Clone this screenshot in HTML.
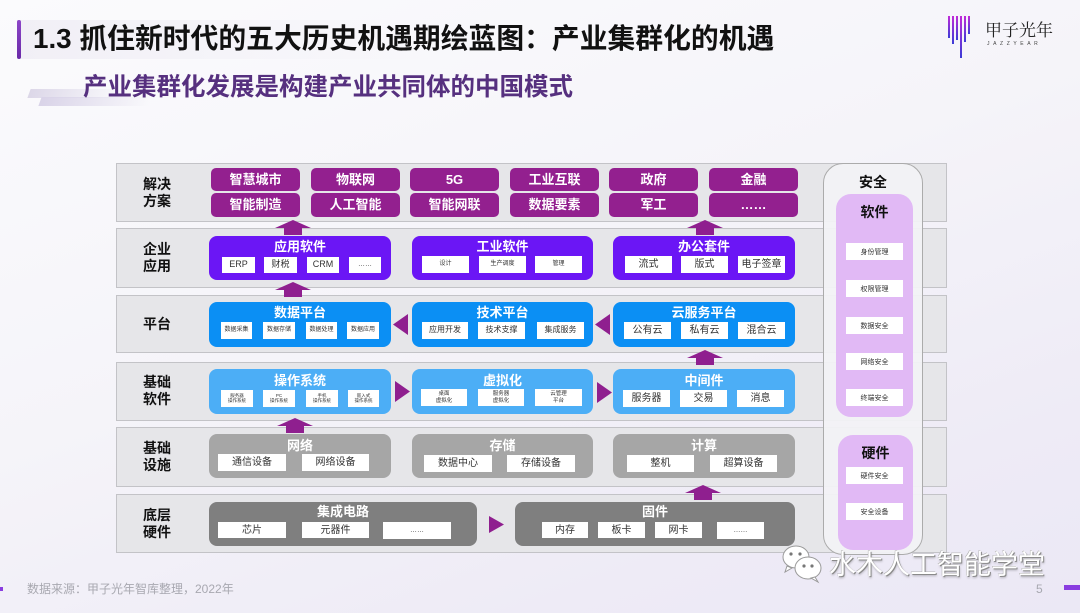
<!DOCTYPE html>
<html><head><meta charset="utf-8">
<style>
*{margin:0;padding:0;box-sizing:border-box;}
html,body{width:1080px;height:613px;overflow:hidden;}
body{position:relative;font-family:"Liberation Sans","Noto Sans CJK SC",sans-serif;
background:linear-gradient(160deg,#fbfbfd 0%,#f5f4f9 45%,#eeebf6 80%,#ebe8f5 100%);}
.abs{position:absolute;}
.row{position:absolute;left:116px;width:831px;border:1.5px solid #c3c3c7;background:#e6e6e9;}
.lab{position:absolute;left:130px;width:54px;text-align:center;font-weight:bold;font-size:14px;line-height:17px;color:#111;}
.p1{position:absolute;width:89px;background:#93208f;color:#fff;border-radius:5px;text-align:center;font-size:13px;font-weight:bold;}
.b{position:absolute;border-radius:8px;}
.t{position:absolute;text-align:center;color:#fff;font-weight:bold;font-size:13px;line-height:18px;}
.s{position:absolute;background:#fff;color:#333;display:flex;align-items:center;justify-content:center;text-align:center;line-height:1.1;white-space:nowrap;}
.sec{position:absolute;background:#fff;color:#333;font-size:7px;display:flex;align-items:center;justify-content:center;left:846px;width:57px;height:17px;}
</style></head><body>

<!-- header -->
<div class="abs" style="left:17px;top:20px;width:420px;height:39px;background:linear-gradient(90deg,#f1eff6,rgba(245,244,249,0));"></div>
<div class="abs" style="left:17px;top:20px;width:4px;height:39px;background:linear-gradient(180deg,#8c46c8,#6a2aa8);border-radius:2px;"></div>
<div class="abs" style="left:33px;top:23px;font-size:27.8px;line-height:32px;font-weight:bold;color:#111;white-space:nowrap;">1.3 抓住新时代的五大历史机遇期绘蓝图：产业集群化的机遇</div>

<div class="abs" style="left:29px;top:89px;width:90px;height:9px;background:linear-gradient(90deg,#dcd7e8,rgba(230,226,240,0));transform:skewX(-20deg);"></div>
<div class="abs" style="left:40px;top:97px;width:110px;height:9px;background:linear-gradient(90deg,#d9d3e8,rgba(230,226,240,0));transform:skewX(-20deg);"></div>
<div class="abs" style="left:83px;top:74px;font-size:24.5px;line-height:28px;font-weight:bold;color:#56307f;white-space:nowrap;">产业集群化发展是构建产业共同体的中国模式</div>

<!-- logo -->
<svg class="abs" style="left:944px;top:14px" width="34" height="46">
<defs><linearGradient id="lg" x1="0" y1="0" x2="0" y2="1"><stop offset="0" stop-color="#c02ad8"/><stop offset="1" stop-color="#3b3bd6"/></linearGradient></defs>
<rect x="4" y="2" width="2" height="22" fill="url(#lg)"/>
<rect x="8" y="2" width="2" height="28" fill="url(#lg)"/>
<rect x="12" y="2" width="2" height="24" fill="url(#lg)"/>
<rect x="16" y="2" width="2" height="42" fill="url(#lg)"/>
<rect x="20" y="2" width="2" height="26" fill="url(#lg)"/>
<rect x="24" y="2" width="2" height="18" fill="url(#lg)"/>
</svg>
<div class="abs" style="left:985px;top:19px;font-size:17px;line-height:20px;color:#222;font-family:'Noto Serif CJK SC','Noto Sans CJK SC',serif;white-space:nowrap;">甲子光年</div>
<div class="abs" style="left:987px;top:41px;font-size:5px;letter-spacing:3.6px;color:#444;white-space:nowrap;">JAZZYEAR</div>

<!-- rows -->
<div class="row" style="top:163px;height:59px;"></div>
<div class="row" style="top:228px;height:60px;"></div>
<div class="row" style="top:295px;height:58px;"></div>
<div class="row" style="top:362px;height:59px;"></div>
<div class="row" style="top:427px;height:60px;"></div>
<div class="row" style="top:494px;height:59px;"></div>

<div class="lab" style="top:176px;">解决<br>方案</div>
<div class="lab" style="top:241px;">企业<br>应用</div>
<div class="lab" style="top:316px;">平台</div>
<div class="lab" style="top:374px;">基础<br>软件</div>
<div class="lab" style="top:440px;">基础<br>设施</div>
<div class="lab" style="top:507px;">底层<br>硬件</div>

<!-- row1 -->
<div class="p1" style="left:211px;top:168px;height:23px;line-height:23px;">智慧城市</div>
<div class="p1" style="left:211px;top:193px;height:24px;line-height:24px;">智能制造</div>
<div class="p1" style="left:311px;top:168px;height:23px;line-height:23px;">物联网</div>
<div class="p1" style="left:311px;top:193px;height:24px;line-height:24px;">人工智能</div>
<div class="p1" style="left:410px;top:168px;height:23px;line-height:23px;">5G</div>
<div class="p1" style="left:410px;top:193px;height:24px;line-height:24px;">智能网联</div>
<div class="p1" style="left:510px;top:168px;height:23px;line-height:23px;">工业互联</div>
<div class="p1" style="left:510px;top:193px;height:24px;line-height:24px;">数据要素</div>
<div class="p1" style="left:609px;top:168px;height:23px;line-height:23px;">政府</div>
<div class="p1" style="left:609px;top:193px;height:24px;line-height:24px;">军工</div>
<div class="p1" style="left:709px;top:168px;height:23px;line-height:23px;">金融</div>
<div class="p1" style="left:709px;top:193px;height:24px;line-height:24px;">……</div>

<!-- row2 -->
<div class="b" style="left:209px;top:236px;width:182px;height:44px;background:#6b16f5;"></div>
<div class="t" style="left:209px;width:182px;top:238px;">应用软件</div>
<div class="s" style="left:222px;top:257px;width:33px;height:16px;font-size:9px;">ERP</div>
<div class="s" style="left:264px;top:257px;width:33px;height:16px;font-size:9px;">财税</div>
<div class="s" style="left:307px;top:257px;width:32px;height:16px;font-size:9px;">CRM</div>
<div class="s" style="left:349px;top:257px;width:32px;height:16px;font-size:7px;">……</div>

<div class="b" style="left:412px;top:236px;width:181px;height:44px;background:#6b16f5;"></div>
<div class="t" style="left:412px;width:181px;top:238px;">工业软件</div>
<div class="s" style="left:422px;top:256px;width:47px;height:17px;font-size:6px;">设计</div>
<div class="s" style="left:479px;top:256px;width:47px;height:17px;font-size:6px;">生产调度</div>
<div class="s" style="left:535px;top:256px;width:47px;height:17px;font-size:6px;">管理</div>

<div class="b" style="left:613px;top:236px;width:182px;height:44px;background:#6b16f5;"></div>
<div class="t" style="left:613px;width:182px;top:238px;">办公套件</div>
<div class="s" style="left:625px;top:256px;width:47px;height:17px;font-size:10px;">流式</div>
<div class="s" style="left:681px;top:256px;width:47px;height:17px;font-size:10px;">版式</div>
<div class="s" style="left:738px;top:256px;width:47px;height:17px;font-size:10px;">电子签章</div>

<!-- row3 -->
<div class="b" style="left:209px;top:302px;width:182px;height:45px;background:#0b8ff4;"></div>
<div class="t" style="left:209px;width:182px;top:304px;">数据平台</div>
<div class="s" style="left:221px;top:322px;width:31px;height:17px;font-size:6px;">数据采集</div>
<div class="s" style="left:263px;top:322px;width:32px;height:17px;font-size:6px;">数据存储</div>
<div class="s" style="left:306px;top:322px;width:31px;height:17px;font-size:6px;">数据处理</div>
<div class="s" style="left:347px;top:322px;width:32px;height:17px;font-size:6px;">数据应用</div>

<div class="b" style="left:412px;top:302px;width:181px;height:45px;background:#0b8ff4;"></div>
<div class="t" style="left:412px;width:181px;top:304px;">技术平台</div>
<div class="s" style="left:422px;top:322px;width:46px;height:17px;font-size:8px;">应用开发</div>
<div class="s" style="left:478px;top:322px;width:47px;height:17px;font-size:8px;">技术支撑</div>
<div class="s" style="left:537px;top:322px;width:47px;height:17px;font-size:8px;">集成服务</div>

<div class="b" style="left:613px;top:302px;width:182px;height:45px;background:#0b8ff4;"></div>
<div class="t" style="left:613px;width:182px;top:304px;">云服务平台</div>
<div class="s" style="left:624px;top:322px;width:47px;height:17px;font-size:10px;">公有云</div>
<div class="s" style="left:681px;top:322px;width:47px;height:17px;font-size:10px;">私有云</div>
<div class="s" style="left:738px;top:322px;width:47px;height:17px;font-size:10px;">混合云</div>

<!-- row4 -->
<div class="b" style="left:209px;top:369px;width:182px;height:45px;background:#4caef6;"></div>
<div class="t" style="left:209px;width:182px;top:372px;">操作系统</div>
<div class="s" style="left:221px;top:390px;width:32px;height:17px;font-size:4.5px;">服务器<br>操作系统</div>
<div class="s" style="left:263px;top:390px;width:32px;height:17px;font-size:4.5px;">PC<br>操作系统</div>
<div class="s" style="left:306px;top:390px;width:32px;height:17px;font-size:4.5px;">手机<br>操作系统</div>
<div class="s" style="left:348px;top:390px;width:31px;height:17px;font-size:4.5px;">嵌入式<br>操作系统</div>

<div class="b" style="left:412px;top:369px;width:181px;height:45px;background:#4caef6;"></div>
<div class="t" style="left:412px;width:181px;top:372px;">虚拟化</div>
<div class="s" style="left:421px;top:389px;width:46px;height:17px;font-size:5.5px;">桌面<br>虚拟化</div>
<div class="s" style="left:478px;top:389px;width:46px;height:17px;font-size:5.5px;">服务器<br>虚拟化</div>
<div class="s" style="left:535px;top:389px;width:47px;height:17px;font-size:5.5px;">云管理<br>平台</div>

<div class="b" style="left:613px;top:369px;width:182px;height:45px;background:#4caef6;"></div>
<div class="t" style="left:613px;width:182px;top:372px;">中间件</div>
<div class="s" style="left:623px;top:390px;width:47px;height:17px;font-size:10px;">服务器</div>
<div class="s" style="left:680px;top:390px;width:47px;height:17px;font-size:10px;">交易</div>
<div class="s" style="left:737px;top:390px;width:47px;height:17px;font-size:10px;">消息</div>

<!-- row5 -->
<div class="b" style="left:209px;top:434px;width:182px;height:44px;background:#a6a6a6;"></div>
<div class="t" style="left:209px;width:182px;top:437px;">网络</div>
<div class="s" style="left:218px;top:454px;width:68px;height:17px;font-size:10px;">通信设备</div>
<div class="s" style="left:302px;top:454px;width:67px;height:17px;font-size:10px;">网络设备</div>

<div class="b" style="left:412px;top:434px;width:181px;height:44px;background:#a6a6a6;"></div>
<div class="t" style="left:412px;width:181px;top:437px;">存储</div>
<div class="s" style="left:424px;top:455px;width:68px;height:17px;font-size:10px;">数据中心</div>
<div class="s" style="left:507px;top:455px;width:68px;height:17px;font-size:10px;">存储设备</div>

<div class="b" style="left:613px;top:434px;width:182px;height:44px;background:#a6a6a6;"></div>
<div class="t" style="left:613px;width:182px;top:437px;">计算</div>
<div class="s" style="left:627px;top:455px;width:67px;height:17px;font-size:10px;">整机</div>
<div class="s" style="left:710px;top:455px;width:67px;height:17px;font-size:10px;">超算设备</div>

<!-- row6 -->
<div class="b" style="left:209px;top:502px;width:268px;height:44px;background:#7f7f7f;"></div>
<div class="t" style="left:209px;width:268px;top:503px;">集成电路</div>
<div class="s" style="left:218px;top:522px;width:68px;height:16px;font-size:10px;">芯片</div>
<div class="s" style="left:302px;top:522px;width:67px;height:16px;font-size:10px;">元器件</div>
<div class="s" style="left:383px;top:522px;width:68px;height:17px;font-size:7px;">……</div>

<div class="b" style="left:515px;top:502px;width:280px;height:44px;background:#7f7f7f;"></div>
<div class="t" style="left:515px;width:280px;top:503px;">固件</div>
<div class="s" style="left:542px;top:522px;width:46px;height:16px;font-size:10px;">内存</div>
<div class="s" style="left:598px;top:522px;width:47px;height:16px;font-size:10px;">板卡</div>
<div class="s" style="left:655px;top:522px;width:47px;height:16px;font-size:10px;">网卡</div>
<div class="s" style="left:717px;top:522px;width:47px;height:17px;font-size:7px;">……</div>

<!-- security -->
<div class="abs" style="left:823px;top:163px;width:100px;height:392px;border:1.5px solid #ababab;border-radius:20px;background:rgba(242,242,245,0.95);"></div>
<div class="abs" style="left:823px;top:173px;width:100px;text-align:center;font-size:14px;font-weight:bold;line-height:18px;color:#111;">安全</div>
<div class="abs" style="left:836px;top:194px;width:77px;height:223px;border-radius:15px;background:#e1b9f5;"></div>
<div class="abs" style="left:836px;top:203px;width:77px;text-align:center;font-size:14px;font-weight:bold;line-height:18px;color:#111;">软件</div>
<div class="sec" style="top:243px;">身份管理</div>
<div class="sec" style="top:280px;">权限管理</div>
<div class="sec" style="top:317px;">数据安全</div>
<div class="sec" style="top:353px;">网络安全</div>
<div class="sec" style="top:389px;">终端安全</div>
<div class="abs" style="left:838px;top:435px;width:75px;height:115px;border-radius:15px;background:#e1b9f5;"></div>
<div class="abs" style="left:838px;top:444px;width:75px;text-align:center;font-size:14px;font-weight:bold;line-height:18px;color:#111;">硬件</div>
<div class="sec" style="top:467px;">硬件安全</div>
<div class="sec" style="top:503px;">安全设备</div>

<!-- arrows -->
<svg class="abs" style="left:0;top:0" width="1080" height="613">
<g fill="#8f1f8f">
<polygon points="293,220 311,228 302,228 302,235 284,235 284,228 275,228"/>
<polygon points="705,220 723,228 714,228 714,235 696,235 696,228 687,228"/>
<polygon points="293,282 311,290 302,290 302,297 284,297 284,290 275,290"/>
<polygon points="705,350 723,358 714,358 714,365 696,365 696,358 687,358"/>
<polygon points="295,418 313,426 304,426 304,433 286,433 286,426 277,426"/>
<polygon points="703,485 721,493 712,493 712,500 694,500 694,493 685,493"/>
<polygon points="393,324.5 408,314 408,335"/>
<polygon points="595,324.5 610,314 610,335"/>
<polygon points="410,391.5 395,381 395,402"/>
<polygon points="612,392.5 597,382 597,403"/>
<polygon points="504,524.5 489,516 489,533"/>
</g>
</svg>

<!-- footer -->
<div class="abs" style="left:0;top:587px;width:3px;height:4px;background:#8a3de0;"></div>
<div class="abs" style="left:27px;top:581px;font-size:12px;line-height:16px;color:#a8a8b0;white-space:nowrap;">数据来源：甲子光年智库整理，2022年</div>
<div class="abs" style="left:1036px;top:581px;font-size:12px;line-height:16px;color:#a8a8b0;">5</div>
<div class="abs" style="left:1064px;top:585px;width:16px;height:5px;background:#8a3de0;"></div>

<!-- watermark -->
<svg class="abs" style="left:781px;top:544px" width="44" height="40">
<g fill="#fff" stroke="#9a9a9a" stroke-width="1">
<ellipse cx="15" cy="13" rx="13" ry="11"/>
<path d="M6 22 L4 28 L11 24 Z"/>
<ellipse cx="27" cy="24" rx="13" ry="11"/>
<path d="M34 33 L37 38 L30 34 Z"/>
</g>
<g fill="#777"><circle cx="10" cy="10" r="1.6"/><circle cx="19" cy="10" r="1.6"/><circle cx="23" cy="22" r="1.6"/><circle cx="31" cy="22" r="1.6"/></g>
</svg>
<div class="abs" style="left:829px;top:549px;font-size:27px;line-height:32px;color:#fff;white-space:nowrap;text-shadow:1px 1px 0 #8a8a8a,-0.5px -0.5px 0 #b0b0b0,1px 2px 2px rgba(0,0,0,0.25);">水木人工智能学堂</div>

</body></html>
